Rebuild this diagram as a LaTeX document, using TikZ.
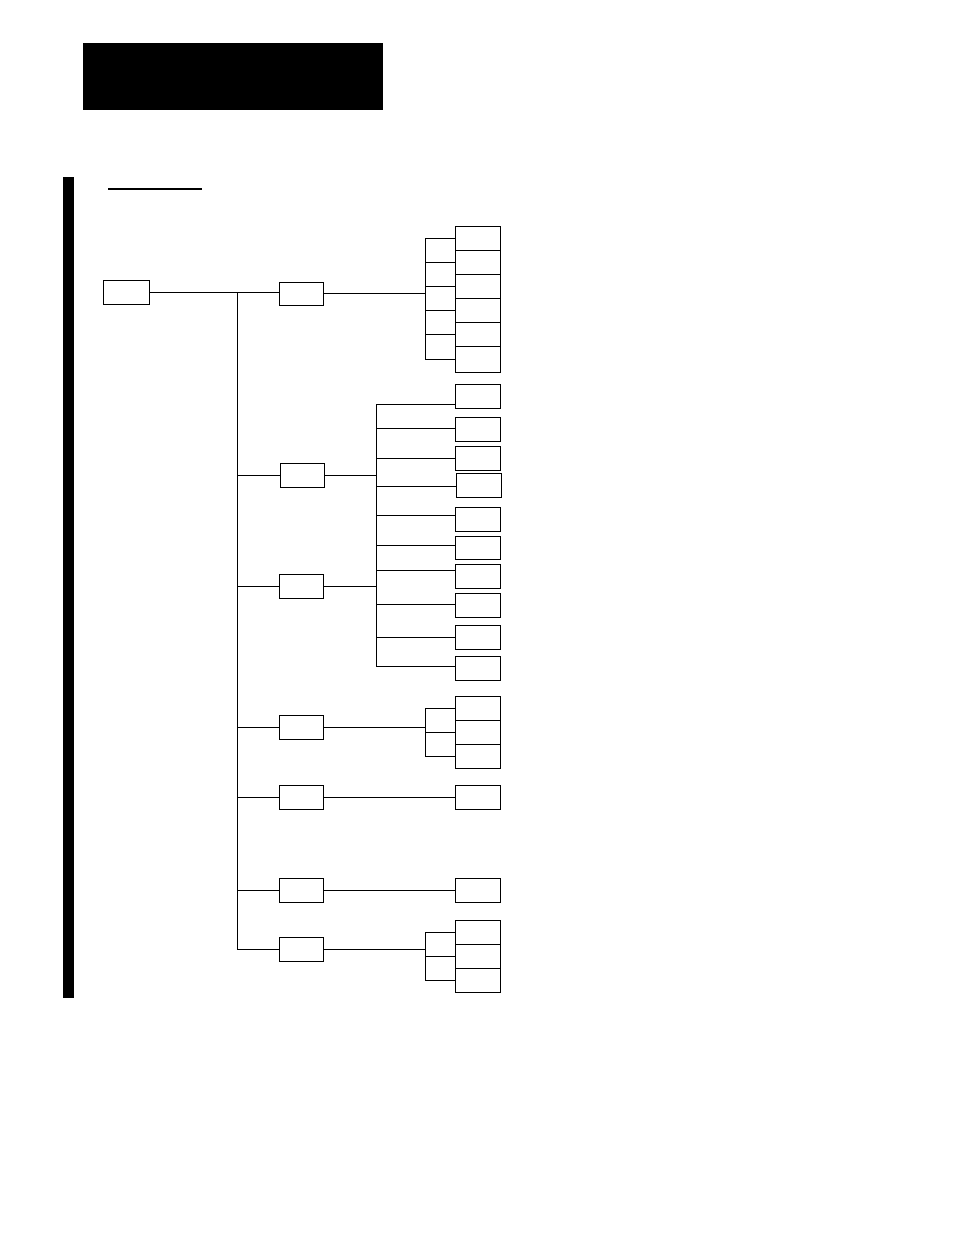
\documentclass[tikz,border=0pt]{standalone}
\begin{document}
\begin{tikzpicture}[x=1pt,y=-1pt,line width=1pt,
  bx/.style={draw,line width=1pt,inner sep=0pt,outer sep=0pt,minimum width=45pt,minimum height=24pt},
  mid/.style={bx,minimum width=44pt},
  conn/.style={draw,line width=1pt}]
\useasboundingbox (0,0) rectangle (954,1235);
% header block and side bar
\fill (83,43) rectangle (383,110);
\fill (63,177) rectangle (74,998);
\draw[line width=1.2pt] (108,189) -- (202,189);
% root and level-1 boxes
\node[bx,minimum width=46pt] (root) at (126,292) {};
\node[mid,minimum height=23pt] (a) at (301,293.5) {};
\node[mid] (b1) at (302.5,475) {};
\node[mid] (b2) at (301.5,586) {};
\node[mid] (c) at (301,727) {};
\node[mid] (d) at (301,797) {};
\node[mid] (e) at (301,890) {};
\node[mid] (f) at (301,949) {};
\coordinate (trunk) at (237,0);
\coordinate (brA) at (425,0);
\coordinate (brB) at (376,0);
% trunk
\draw[conn] (root.east) -- (root.east -| a.west);
\draw[conn] (root.east -| trunk) -- (f.west -| trunk);
\foreach \n in {b1,b2,c,d,e,f} \draw[conn] (\n.west -| trunk) -- (\n.west);
% group A
\foreach \i/\y/\h in {1/238/24,2/262/24,3/286/24,4/310/24,5/334/24,6/359/26}
  \node[bx,minimum height=\h pt] (ar\i) at (477.5,\y) {};
\draw[conn] (a.east) -- (a.east -| brA);
\draw[conn] (ar1.west -| brA) -- (ar6.west -| brA);
\foreach \i in {1,...,6} \draw[conn] (ar\i.west -| brA) -- (ar\i.west);
% group B
\foreach \i/\x/\y/\h in {1/477.5/396/24,2/477.5/429/24,3/477.5/458/24,4/478.5/485/24,5/477.5/519/24,6/477.5/547.5/23,7/477.5/576/24,8/477.5/605/24,9/477.5/637/24,10/477.5/668/24}
  \node[bx,minimum height=\h pt] (br\i) at (\x,\y) {};
\draw[conn] (b1.east) -- (b1.east -| brB);
\draw[conn] (b2.east) -- (b2.east -| brB);
\coordinate (btop) at (376,404);
\coordinate (bbot) at (376,666);
\draw[conn] (btop) -- (bbot);
\foreach \i/\y in {1/404,2/428,3/458,4/486,5/515,6/545,7/570,8/604,9/637,10/666}{
  \coordinate (tk) at (376,\y);
  \draw[conn] (tk) -- (tk -| br\i.west);
}
% group C
\foreach \i/\y in {1/708,2/732,3/756}
  \node[bx] (cr\i) at (477.5,\y) {};
\draw[conn] (c.east) -- (c.east -| brA);
\draw[conn] (cr1.west -| brA) -- (cr3.west -| brA);
\foreach \i in {1,2,3} \draw[conn] (cr\i.west -| brA) -- (cr\i.west);
% D and E
\node[bx] (dr) at (477.5,797) {};
\draw[conn] (d.east) -- (dr.west);
\node[bx] (er) at (477.5,890) {};
\draw[conn] (e.east) -- (er.west);
% group F
\foreach \i/\y in {1/932,2/956,3/980}
  \node[bx] (fr\i) at (477.5,\y) {};
\draw[conn] (f.east) -- (f.east -| brA);
\draw[conn] (fr1.west -| brA) -- (fr3.west -| brA);
\foreach \i in {1,2,3} \draw[conn] (fr\i.west -| brA) -- (fr\i.west);
\end{tikzpicture}
\end{document}
